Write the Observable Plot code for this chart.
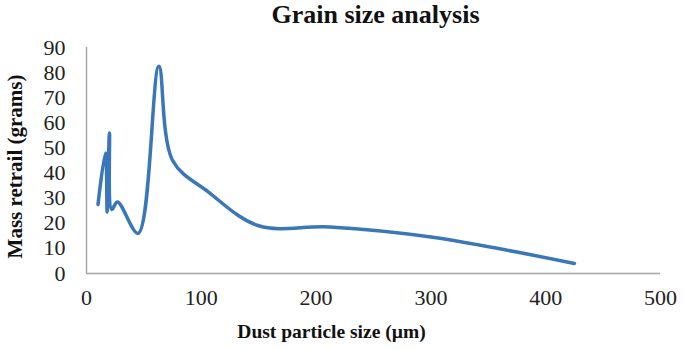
<!DOCTYPE html>
<html>
<head>
<meta charset="utf-8">
<script src="https://cdn.jsdelivr.net/npm/d3@7"></script>
<script src="https://cdn.jsdelivr.net/npm/@observablehq/plot@0.6"></script>
<style>
  html, body { margin: 0; padding: 0; background: #fff; }
  svg { font-family: "Liberation Serif", "Times New Roman", serif; }
</style>
</head>
<body>
<div id="chart"></div>
<script>
const sizes  = [10, 16.5, 18, 20, 22, 27, 45, 63, 75, 106, 150, 212, 300, 425];
const masses = [27.5, 48, 24.5, 56, 25.5, 28.5, 16, 82.5, 45, 32.5, 19, 18.5, 14.5, 4];
const xTicks = [0, 100, 200, 300, 400, 500];
const yTicks = [0, 10, 20, 30, 40, 50, 60, 70, 80, 90];
const titleText = "Grain size analysis";
const xLabel = "Dust particle size (µm)";
const yLabel = "Mass retrail (grams)";

const data = sizes.map((s, i) => ({size: s, mass: masses[i]}));

const chart = Plot.plot({
  width: 685,
  height: 350,
  marginLeft: 86,
  marginRight: 25,
  marginTop: 47,
  marginBottom: 77,
  style: {fontFamily: '"Liberation Serif", "Times New Roman", serif', background: "#fff"},
  x: {domain: [0, 500]},
  y: {domain: [0, 90]},
  marks: [
    Plot.ruleX([0], {stroke: "#a6a6a6", strokeWidth: 1.5}),
    Plot.ruleY([0], {stroke: "#a6a6a6", strokeWidth: 1.5}),
    Plot.axisX({ticks: xTicks, tickSize: 0, tickPadding: 16, fontSize: 22, fill: "#222", label: null}),
    Plot.axisY({ticks: yTicks, tickSize: 0, tickPadding: 21, fontSize: 22, fill: "#222", label: null}),
    Plot.line(data, {x: "size", y: "mass", curve: "catmull-rom", stroke: "#3a77b9", strokeWidth: 3.5, strokeLinejoin: "round", strokeLinecap: "round"}),
    Plot.text([titleText], {frameAnchor: "top", textAnchor: "middle", lineAnchor: "middle", dx: 2, dy: -33, fontSize: 26, fontWeight: "bold", fill: "#111"}),
    Plot.text([xLabel], {frameAnchor: "bottom", textAnchor: "middle", lineAnchor: "middle", dx: -42, dy: 58, fontSize: 19.5, fontWeight: "bold", fill: "#111"}),
    Plot.text([yLabel], {frameAnchor: "left", textAnchor: "middle", lineAnchor: "middle", dx: -71, dy: 6, rotate: -90, fontSize: 21, fontWeight: "bold", fill: "#111"})
  ]
});
document.getElementById("chart").appendChild(chart);
</script>
</body>
</html>
